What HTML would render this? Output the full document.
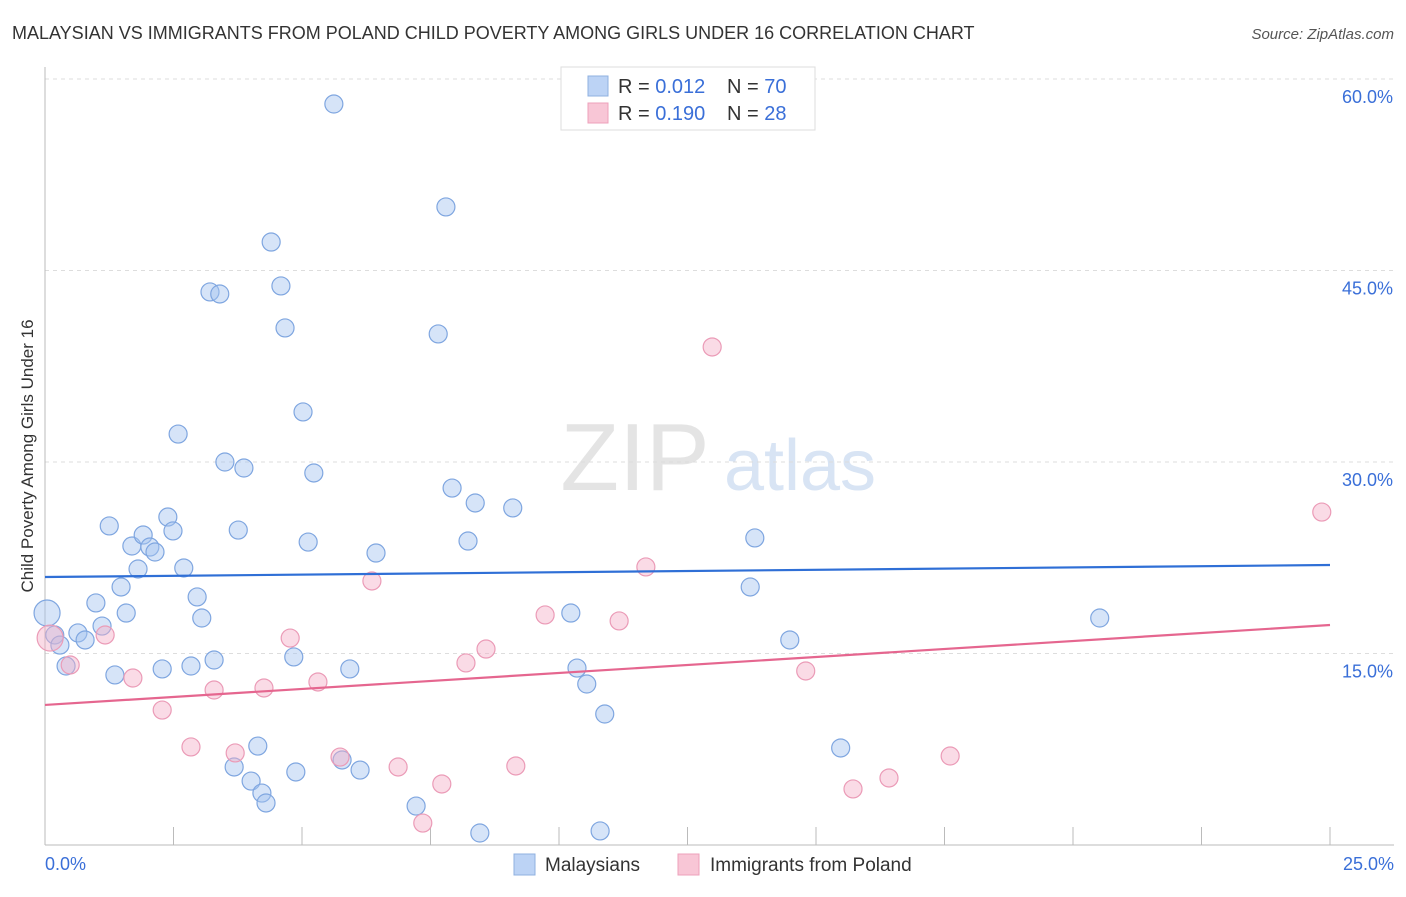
<!DOCTYPE html>
<html><head><meta charset="utf-8"><style>
body{margin:0;background:#fff;font-family:"Liberation Sans",sans-serif}
svg text{font-family:"Liberation Sans",sans-serif}
</style></head><body>
<svg id="chart" width="1406" height="892" xmlns="http://www.w3.org/2000/svg">
<text x="12" y="39" font-size="18" fill="#333">MALAYSIAN VS IMMIGRANTS FROM POLAND CHILD POVERTY AMONG GIRLS UNDER 16 CORRELATION CHART</text>
<text x="1394" y="39" font-size="15" fill="#555" text-anchor="end" font-style="italic">Source: ZipAtlas.com</text>
<g><text x="635" y="490" font-size="96" fill="#e4e4e4" text-anchor="middle" font-family="Liberation Serif">ZIP</text><text x="800" y="490" font-size="72" fill="#d8e4f4" text-anchor="middle">atlas</text></g>
<g id="grid"></g><g id="axes"></g><g id="marks"></g>
<text transform="translate(33,456) rotate(-90)" font-size="17" fill="#333" text-anchor="middle">Child Poverty Among Girls Under 16</text>
<g>
<rect x="561" y="67" width="254" height="63" fill="#fff" stroke="#ddd"/>
<rect x="588" y="76" width="20" height="20" fill="#bcd3f5" stroke="#8fb0e0"/>
<text x="618" y="93" font-size="20" fill="#333">R = <tspan fill="#3a6fd8">0.012</tspan></text>
<text x="727" y="93" font-size="20" fill="#333">N = <tspan fill="#3a6fd8">70</tspan></text>
<rect x="588" y="103" width="20" height="20" fill="#f8c6d6" stroke="#eea0bb"/>
<text x="618" y="120" font-size="20" fill="#333">R = <tspan fill="#3a6fd8">0.190</tspan></text>
<text x="727" y="120" font-size="20" fill="#333">N = <tspan fill="#3a6fd8">28</tspan></text>
</g>
<g>
<rect x="514" y="854" width="21" height="21" fill="#bcd3f5" stroke="#8fb0e0"/>
<text x="545" y="871" font-size="19" fill="#333">Malaysians</text>
<rect x="678" y="854" width="21" height="21" fill="#f8c6d6" stroke="#eea0bb"/>
<text x="710" y="871" font-size="19" fill="#333">Immigrants from Poland</text>
</g>
</svg>
<script>
const yTicks=[15,30,45,60];
const xTickLabels=["0.0%","25.0%"];
const blueX=[0.04,0.19,0.29,0.41,0.64,0.78,0.99,1.11,1.25,1.36,1.48,1.58,1.69,1.81,1.91,2.04,2.14,2.28,2.39,2.49,2.59,2.70,2.84,2.96,3.05,3.21,3.29,3.40,3.50,3.68,3.76,3.87,4.01,4.14,4.22,4.30,4.40,4.59,4.67,4.84,4.88,5.02,5.12,5.23,5.62,5.78,5.93,6.13,6.44,7.22,7.65,7.80,7.92,8.23,8.37,8.46,9.10,10.23,10.35,10.54,10.80,10.89,13.23,13.72,13.81,14.49,15.48,20.52];
const blueY=[18.17,16.45,15.66,14.02,16.61,16.06,18.96,17.15,24.99,13.32,20.21,18.17,23.42,21.62,24.28,23.34,22.95,13.79,25.69,24.6,32.19,21.7,14.02,19.43,17.78,43.32,14.49,43.16,30.0,6.11,24.67,29.53,5.01,7.75,4.07,3.29,47.23,43.79,40.5,14.73,5.72,33.92,23.73,29.14,58.04,6.66,13.79,5.87,22.87,3.05,40.03,49.98,27.96,23.81,26.79,0.94,26.4,18.17,13.86,12.61,1.1,10.26,59.92,20.21,24.05,16.06,7.6,17.78];
const pinkX=[0.10,0.49,1.17,1.71,2.28,2.84,3.29,3.70,4.26,4.77,5.31,5.74,6.36,6.87,7.35,7.72,8.19,8.58,9.16,9.73,11.17,11.69,12.98,14.80,15.72,16.42,17.61,24.84];
const pinkY=[16.21,14.1,16.45,13.08,10.57,7.68,12.14,7.21,12.3,16.21,12.77,6.89,20.68,6.11,1.72,4.78,14.26,15.35,6.19,18.02,17.55,21.78,39.01,13.63,4.39,5.25,6.97,26.08];
const blueTrend=[20.99,21.93];
const pinkTrend=[10.97,17.23];
const NS="http://www.w3.org/2000/svg";
const X=v=>45+v/25*1285, Y=v=>845-v/15*191.5;
function mk(t,a,p){const e=document.createElementNS(NS,t);for(const k in a)e.setAttribute(k,a[k]);document.getElementById(p).appendChild(e);return e;}
yTicks.forEach(t=>{const l=mk('line',{x1:45,x2:1394,y1:Y(t),y2:Y(t),stroke:'#ddd','stroke-dasharray':'4,4'},'grid');


const tx=mk('text',{x:1393,y:Y(t)+24,'font-size':18,fill:'#3a6fd8','text-anchor':'end'},'axes');tx.textContent=t.toFixed(1)+'%';

});
const ya=mk('line',{x1:45,x2:45,y1:67,y2:845,stroke:'#bbb'},'axes');


const xa=mk('line',{x1:45,x2:1394,y1:845,y2:845,stroke:'#bbb'},'axes');


for(let i=1;i<=10;i++){const t=mk('line',{x1:X(i*2.5),x2:X(i*2.5),y1:827,y2:845,stroke:'#bbb'},'axes');

}
[[45,'start'],[1394,'end']].forEach((p,i)=>{const t=mk('text',{x:p[0],y:870,'font-size':18,fill:'#3a6fd8','text-anchor':p[1]},'axes');t.textContent=xTickLabels[i];

});
function pts(xs,ys,fill,stroke,name){xs.forEach((x,i)=>{const c=mk('circle',{cx:X(x),cy:Y(ys[i]),r:i==0?13:9,fill:fill,stroke:stroke,'stroke-width':1.2},'marks');

});}
pts(blueX,blueY,'rgba(165,195,240,0.45)','#7fa6e0','malaysian-point');
pts(pinkX,pinkY,'rgba(245,175,200,0.45)','#eb9bb7','poland-point');
const bl=mk('line',{x1:X(0),y1:Y(blueTrend[0]),x2:X(25),y2:Y(blueTrend[1]),stroke:'#2f6fd6','stroke-width':2.2},'marks');


const pl=mk('line',{x1:X(0),y1:Y(pinkTrend[0]),x2:X(25),y2:Y(pinkTrend[1]),stroke:'#e5668f','stroke-width':2.2},'marks');


</script>
</body></html>
